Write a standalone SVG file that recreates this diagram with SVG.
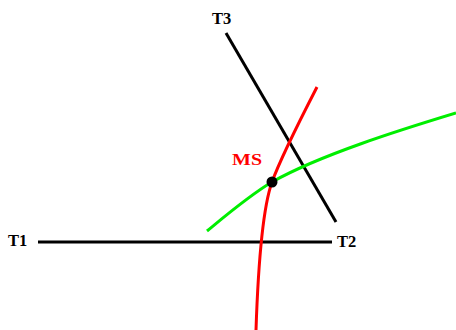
<svg xmlns="http://www.w3.org/2000/svg" width="456" height="330" viewBox="0 0 456 330">
<style>
.lbl{font-family:"Liberation Serif",serif;font-weight:bold;font-size:16.5px}
.ln{fill:none;stroke-width:3;stroke-linecap:butt}
</style>
<rect width="456" height="330" fill="#fff"/>
<g id="connectors">
<line class="ln" x1="38" y1="242" x2="332" y2="242" stroke="#000"/>
<line class="ln" x1="226" y1="33" x2="336" y2="222" stroke="#000"/>
<path class="ln" d="M207,231 C230,212 250,195 272,182 C320,155 400,130 456,113" stroke="#00ee00"/>
<path class="ln" d="M317,87 C300,120 280,160 272,182 C262,210 258,270 256,330" stroke="#ff0000"/>
</g>
<g id="T1"><text class="lbl" x="8" y="246" fill="#000">T1</text></g>
<g id="T2"><text class="lbl" x="337" y="247" fill="#000">T2</text></g>
<g id="T3"><text class="lbl" x="212" y="23.5" fill="#000">T3</text></g>
<g id="MS"><circle cx="272" cy="182" r="5.5" fill="#000"/><text class="lbl" x="232" y="165" fill="#ff0000" textLength="30" lengthAdjust="spacingAndGlyphs">MS</text></g>
</svg>
